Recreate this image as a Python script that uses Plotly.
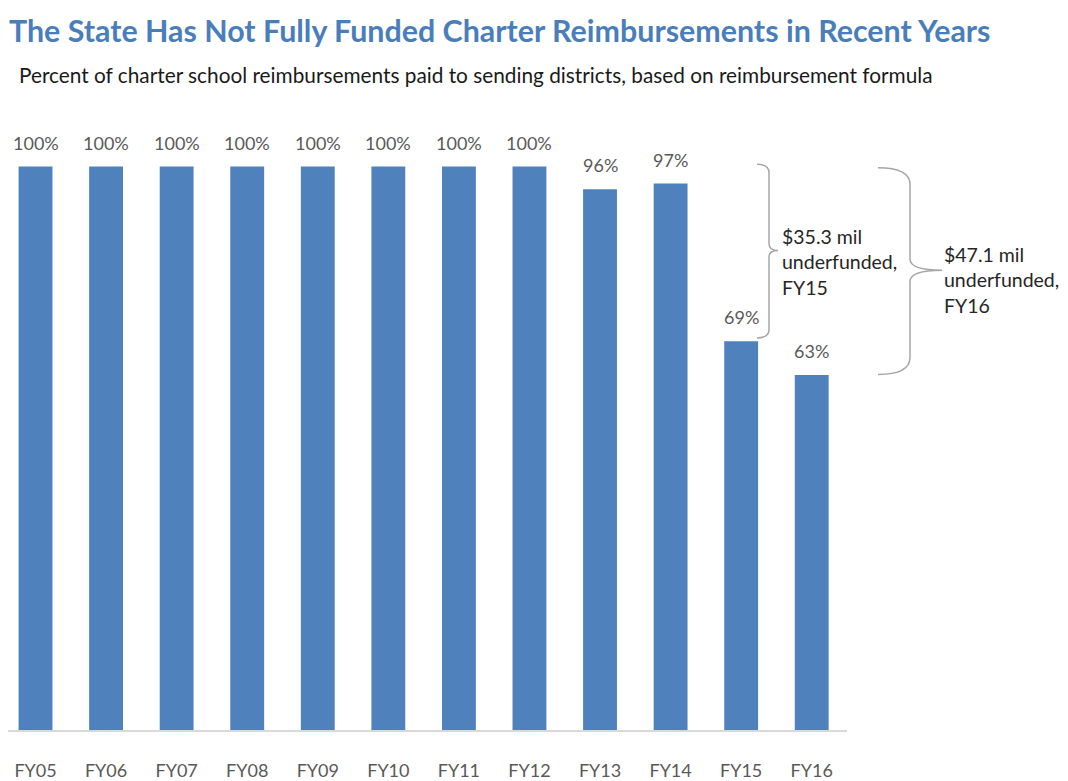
import plotly.graph_objects as go

categories = ["FY05", "FY06", "FY07", "FY08", "FY09", "FY10", "FY11", "FY12", "FY13", "FY14", "FY15", "FY16"]
percent_paid = [100, 100, 100, 100, 100, 100, 100, 100, 96, 97, 69, 63]
value_labels = ["100%", "100%", "100%", "100%", "100%", "100%", "100%", "100%", "96%", "97%", "69%", "63%"]

title_text = "The State Has Not Fully Funded Charter Reimbursements in Recent Years"
subtitle_text = "Percent of charter school reimbursements paid to sending districts, based on reimbursement formula"
note_fy15 = "$35.3 mil<br>underfunded,<br>FY15"
note_fy16 = "$47.1 mil<br>underfunded,<br>FY16"

FONT = "Lato"
BAR_COLOR = "#4f81bd"
LABEL_GRAY = "#595959"
BRACKET_GRAY = "#a6a6a6"

# page has an 8px body margin; figure sized to fit the 1068x781 window
W, H = 1060, 773
ML, MR, MT, MB = 0, 221, 122, 42
plot_w = W - ML - MR
plot_h = H - MT - MB
OFF = 8  # page offset


def px(page_x):
    return (page_x - OFF - ML) / plot_w


def py(page_y):
    return 1 + (MT - (page_y - OFF)) / plot_h


fig = go.Figure()
fig.add_trace(go.Bar(
    x=categories, y=percent_paid,
    marker=dict(color=BAR_COLOR, line=dict(width=0)),
    width=0.48,
    hoverinfo="skip",
))

annotations = []
for c, v, t in zip(categories, percent_paid, value_labels):
    annotations.append(dict(
        x=c, y=v, xref="x", yref="y", text=t, showarrow=False,
        yanchor="bottom", yshift=11,
        font=dict(family=FONT, size=18, color=LABEL_GRAY),
    ))


def brace(x_hook, x_vert, x_tip, y_top, y_bot, y_mid, r_top=4.0, r_mid=3.0):
    a, b, c = px(x_hook), px(x_vert), px(x_tip)
    return (f"M {a},{y_top} Q {b},{y_top} {b},{y_top - r_top} "
            f"L {b},{y_mid + r_mid} Q {b},{y_mid} {c},{y_mid} "
            f"Q {b},{y_mid} {b},{y_mid - r_mid} "
            f"L {b},{y_bot + r_top} Q {b},{y_bot} {a},{y_bot}")


shapes = [
    dict(type="path", xref="paper", yref="y",
         path=brace(757, 769, 778, percent_paid[0] + 0.4, percent_paid[10] + 0.6, 85.1, 1.5, 1.2),
         line=dict(color=BRACKET_GRAY, width=1.5)),
    dict(type="path", xref="paper", yref="y",
         path=brace(878, 910, 942, percent_paid[0] - 0.2, percent_paid[11] + 0.1, 81.6, 3.0, 2.0),
         line=dict(color=BRACKET_GRAY, width=1.5)),
]

annotations.append(dict(
    x=px(780), y=83.1, xref="paper", yref="y",
    text=note_fy15, showarrow=False, xanchor="left", yanchor="middle", align="left",
    font=dict(family=FONT, size=19.5, color="#262626"),
))
annotations.append(dict(
    x=px(942), y=79.9, xref="paper", yref="y",
    text=note_fy16, showarrow=False, xanchor="left", yanchor="middle", align="left",
    font=dict(family=FONT, size=19.5, color="#262626"),
))

annotations.append(dict(
    x=px(7), y=py(29), xref="paper", yref="paper", xanchor="left", yanchor="middle",
    text="<b>" + title_text + "</b>", showarrow=False,
    font=dict(family=FONT, size=30.4, color="#4a7ebb"),
))
annotations.append(dict(
    x=px(17), y=py(74), xref="paper", yref="paper", xanchor="left", yanchor="middle",
    text=subtitle_text, showarrow=False,
    font=dict(family=FONT, size=20.8, color="#1a1a1a"),
))

fig.update_layout(
    width=W, height=H,
    margin=dict(l=ML, r=MR, t=MT, b=MB, pad=0),
    paper_bgcolor="white", plot_bgcolor="white",
    showlegend=False,
    xaxis=dict(
        type="category", range=[-0.39, 11.5],
        showgrid=False, zeroline=False,
        showline=True, linecolor="#d9d9d9", linewidth=2,
        ticks="", ticklabelstandoff=23,
        tickfont=dict(family=FONT, size=18, color=LABEL_GRAY),
    ),
    yaxis=dict(range=[0, 106.5], visible=False),
    annotations=annotations,
    shapes=shapes,
)

fig.write_html("out.html")
